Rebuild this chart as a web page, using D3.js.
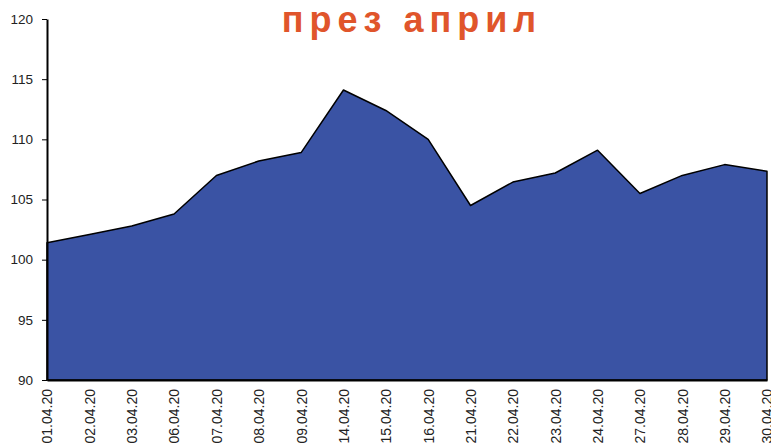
<!DOCTYPE html>
<html>
<head>
<meta charset="utf-8">
<script src="https://cdn.jsdelivr.net/npm/d3@7"></script>
<style>
  body { margin: 0; background: #fff; }
  svg { display: block; font-family: "Liberation Sans", Arial, sans-serif; }
</style>
</head>
<body>
<svg width="771" height="445"></svg>
<script>
const dates = ["01.04.20", "02.04.20", "03.04.20", "06.04.20", "07.04.20", "08.04.20", "09.04.20",
  "14.04.20", "15.04.20", "16.04.20", "21.04.20", "22.04.20", "23.04.20", "24.04.20",
  "27.04.20", "28.04.20", "29.04.20", "30.04.20"];
const values = [101.4, 102.1, 102.8, 103.8, 107.0, 108.2, 108.9, 114.1, 112.4, 110.0,
  104.5, 106.45, 107.2, 109.1, 105.5, 107.0, 107.9, 107.35];
const yTicks = [90, 95, 100, 105, 110, 115, 120];
const title = "през април";

const svg = d3.select("svg");
const mLeft = 47, mRight = 767, mTop = 19, mBottom = 380;

const x = d3.scalePoint().domain(dates).range([mLeft, mRight]);
const y = d3.scaleLinear().domain([90, 120]).range([mBottom, mTop]);

const data = dates.map((d, i) => ({ date: d, value: values[i] }));

const area = d3.area()
  .x(d => x(d.date))
  .y0(y(90))
  .y1(d => y(d.value));

svg.append("path")
  .datum(data)
  .attr("d", area)
  .attr("fill", "#3a53a4")
  .attr("stroke", "#000")
  .attr("stroke-width", 1.5)
  .attr("stroke-linejoin", "round");

// y axis
const yAxis = svg.append("g")
  .attr("transform", `translate(${mLeft},0)`)
  .call(d3.axisLeft(y).tickValues(yTicks).tickSize(5).tickPadding(9).tickSizeOuter(0));
yAxis.select(".domain").attr("stroke", "#000").attr("stroke-width", 2);
yAxis.selectAll("text").attr("font-size", 13.5).attr("fill", "#222")
  .attr("font-family", "Liberation Sans, Arial, sans-serif");

// x axis
const xAxis = svg.append("g")
  .attr("transform", `translate(0,${mBottom})`)
  .call(d3.axisBottom(x).tickSize(0).tickPadding(0).tickSizeOuter(0));
xAxis.select(".domain").attr("stroke", "#000").attr("stroke-width", 2);
xAxis.selectAll("text")
  .attr("font-size", 14)
  .attr("fill", "#222")
  .attr("font-family", "Liberation Sans, Arial, sans-serif")
  .attr("transform", "rotate(-90)")
  .attr("text-anchor", "end")
  .attr("x", -9)
  .attr("y", 0)
  .attr("dy", "0.35em");

svg.append("text")
  .attr("x", 412)
  .attr("y", 32)
  .attr("text-anchor", "middle")
  .attr("font-size", 36)
  .attr("font-weight", "bold")
  .attr("letter-spacing", 6)
  .attr("font-family", "Liberation Sans, Arial, sans-serif")
  .attr("fill", "#e0552b")
  .text(title);
</script>
</body>
</html>
